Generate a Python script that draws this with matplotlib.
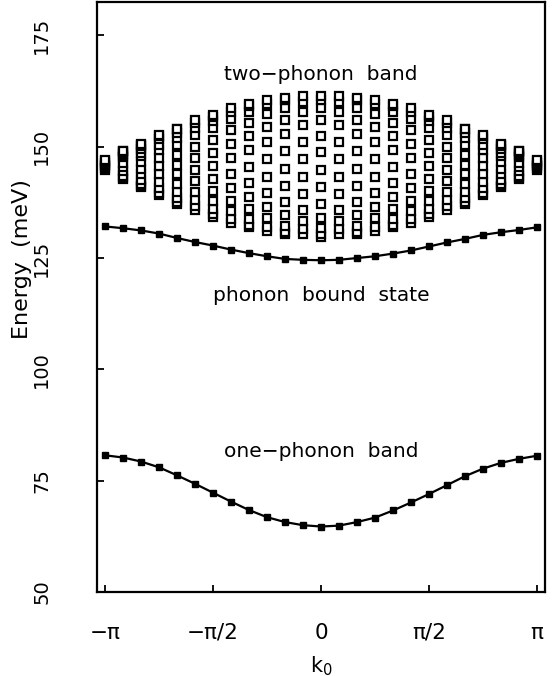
import numpy as np
import matplotlib
matplotlib.use("Agg")
import matplotlib.pyplot as plt

plt.rcParams['font.family'] = ['DejaVu Sans']

# total momentum k0 on the 25 point grid, -pi .. pi
k0 = np.linspace(-np.pi, np.pi, 25)

# one-phonon band (meV)
one_phonon = [80.7, 80.2, 79.3, 78.0, 76.2, 74.3, 72.3, 70.3, 68.4, 66.8, 65.7, 65.0, 64.7,
              64.9, 65.7, 66.7, 68.3, 70.1, 72.0, 74.0, 76.0, 77.7, 79.0, 79.9, 80.6]

# phonon bound state (meV)
bound_state = [132.1, 131.7, 131.2, 130.5, 129.5, 128.6, 127.8, 126.9, 126.1, 125.4, 124.8, 124.6, 124.5,
               124.6, 125.0, 125.4, 126.0, 126.7, 127.6, 128.5, 129.3, 130.2, 130.8, 131.3, 131.9]

# two-phonon continuum: energy levels in each k0 column (meV)
two_phonon = [
    [144.8, 145.2, 145.6, 146.0, 146.4, 146.8, 147.1],
    [142.8, 143.0, 143.4, 144.5, 145.5, 146.4, 147.7, 148.0, 148.3, 148.8, 149.0, 149.1],
    [141.0, 141.1, 141.6, 142.6, 143.9, 145.1, 146.5, 148.0, 148.7, 149.5, 150.2, 150.5, 150.6],
    [139.2, 139.7, 140.7, 142.1, 143.8, 145.6, 147.4, 149.3, 150.5, 151.7, 152.5, 152.7],
    [137.2, 137.5, 138.5, 139.9, 141.6, 143.9, 146.0, 148.2, 150.4, 151.9, 153.1, 153.9, 154.0],
    [135.8, 136.6, 138.0, 139.8, 142.2, 144.8, 147.4, 150.0, 152.6, 154.2, 155.4, 156.0],
    [134.3, 134.8, 136.0, 137.8, 140.1, 142.8, 145.7, 148.7, 151.6, 154.1, 155.7, 156.7, 157.2],
    [132.9, 133.8, 135.5, 137.9, 140.7, 143.8, 147.4, 150.7, 153.7, 156.3, 157.8, 158.7],
    [132.0, 132.4, 133.7, 136.0, 138.7, 141.8, 145.4, 149.2, 152.5, 155.4, 157.9, 159.2, 159.6],
    [131.1, 131.9, 133.9, 136.5, 139.7, 143.3, 147.2, 151.1, 154.5, 157.3, 159.7, 160.5],
    [130.5, 130.9, 132.3, 134.6, 137.6, 141.2, 145.1, 149.0, 152.8, 156.0, 158.8, 160.6, 161.0],
    [130.5, 131.5, 133.3, 135.9, 139.4, 143.3, 147.2, 151.1, 154.8, 157.8, 160.0, 161.4],
    [129.8, 130.4, 131.8, 133.9, 137.1, 140.9, 144.8, 148.8, 152.5, 156.1, 158.6, 160.4, 161.4],
    [130.5, 131.5, 133.3, 135.9, 139.4, 143.3, 147.2, 151.1, 154.8, 157.8, 160.0, 161.4],
    [130.5, 130.9, 132.3, 134.6, 137.6, 141.2, 145.1, 149.0, 152.8, 156.0, 158.8, 160.6, 161.0],
    [131.1, 131.9, 133.9, 136.5, 139.7, 143.3, 147.2, 151.1, 154.5, 157.3, 159.7, 160.5],
    [132.0, 132.4, 133.7, 136.0, 138.7, 141.8, 145.4, 149.2, 152.5, 155.4, 157.9, 159.2, 159.6],
    [132.9, 133.8, 135.5, 137.9, 140.7, 143.8, 147.4, 150.7, 153.7, 156.3, 157.8, 158.7],
    [134.3, 134.8, 136.0, 137.8, 140.1, 142.8, 145.7, 148.7, 151.6, 154.1, 155.7, 156.7, 157.2],
    [135.8, 136.6, 138.0, 139.8, 142.2, 144.8, 147.4, 150.0, 152.6, 154.2, 155.4, 156.0],
    [137.2, 137.5, 138.5, 139.9, 141.6, 143.9, 146.0, 148.2, 150.4, 151.9, 153.1, 153.9, 154.0],
    [139.2, 139.7, 140.7, 142.1, 143.8, 145.6, 147.4, 149.3, 150.5, 151.7, 152.5, 152.7],
    [141.0, 141.1, 141.6, 142.6, 143.9, 145.1, 146.5, 148.0, 148.7, 149.5, 150.2, 150.5, 150.6],
    [142.8, 143.0, 143.4, 144.5, 145.5, 146.4, 147.7, 148.0, 148.3, 148.8, 149.0, 149.1],
    [144.8, 145.2, 145.6, 146.0, 146.4, 146.8, 147.1],
]

x_ticks = [-np.pi, -np.pi / 2, 0, np.pi / 2, np.pi]
x_tick_labels = ['\u2212\u03c0', '\u2212\u03c0/2', '0', '\u03c0/2', '\u03c0']
y_ticks = [50, 75, 100, 125, 150, 175]

fig = plt.figure(figsize=(5.53, 6.76), dpi=100)
ax = fig.add_axes([0.1754, 0.1243, 0.8101, 0.8727])

# two-phonon band, open squares
for kk, levels in zip(k0, two_phonon):
    ax.plot([kk] * len(levels), levels, linestyle='none', marker='s', ms=5.4,
            mfc='white', mec='black', mew=1.6)

ax.plot(k0, bound_state, '-', color='black', lw=1.6, marker='s', ms=4.5)
ax.plot(k0, one_phonon, '-', color='black', lw=1.6, marker='s', ms=4.5)

ax.text(0, 166.2, 'two\u2212phonon  band', ha='center', va='center', fontsize=14.5)
ax.text(0, 116.5, 'phonon  bound  state', ha='center', va='center', fontsize=14.5)
ax.text(0, 81.6, 'one\u2212phonon  band', ha='center', va='center', fontsize=14.5)

ax.set_xlim(-np.pi - 0.116, np.pi + 0.116)
ax.set_ylim(50, 182.5)
ax.set_xticks(x_ticks)
ax.set_xticklabels(x_tick_labels, fontsize=15.5)
ax.set_yticks(y_ticks)
ax.set_yticklabels([str(v) for v in y_ticks], fontsize=14, rotation=90, va='center')

ax.tick_params(direction='in', length=5, width=1.3)
ax.tick_params(axis='x', pad=22)
ax.tick_params(axis='y', pad=33)
for s in ax.spines.values():
    s.set_linewidth(1.6)

ax.set_xlabel('k$_0$', fontsize=15)
ax.xaxis.set_label_coords(0.5, -0.105)
ax.set_ylabel('Energy  (meV)', fontsize=16)
ax.yaxis.set_label_coords(-0.145, 0.565)

fig.savefig('out.png', dpi=100)
